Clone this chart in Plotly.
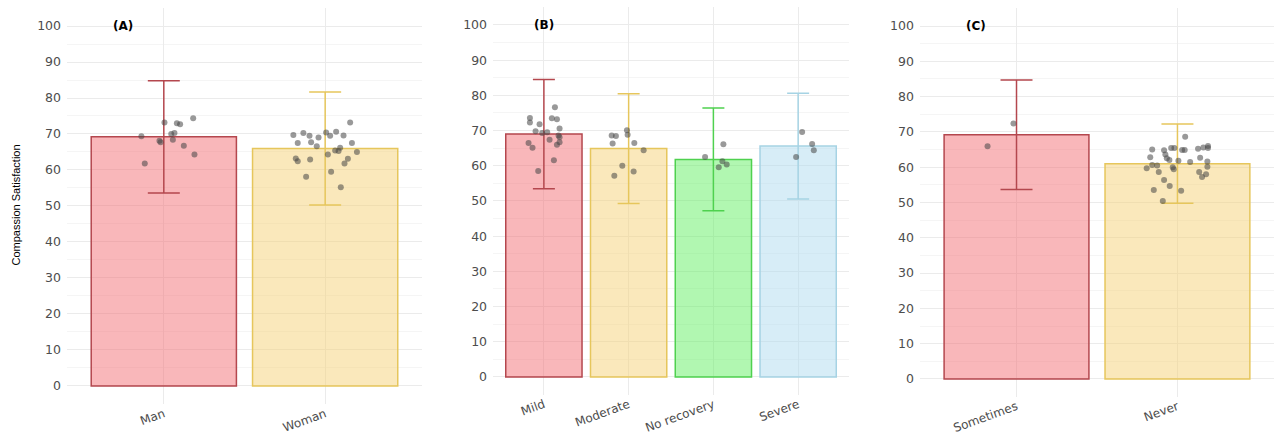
import plotly.graph_objects as go

# ---- data -------------------------------------------------------------
gender_cats = ["Man", "Woman"]
gender_mean = [69.2, 66.0]
gender_sd = [15.6, 15.7]
man_dx = [-0.139, -0.118, -0.027, -0.020, 0.004, 0.046, 0.066, 0.056, 0.081, 0.101, 0.124, 0.182, 0.190]
man_vals = [69.4, 61.8, 68.1, 67.7, 73.2, 70.0, 70.3, 68.4, 73.0, 72.7, 66.7, 74.4, 64.3]
woman_dx = [-0.197, -0.135, -0.097, -0.041, 0.006, 0.031, 0.068, 0.114, 0.155, -0.170, -0.087, -0.052, 0.166,
            0.197, 0.093, 0.062, 0.083, 0.017, -0.182, -0.170, -0.093, 0.141, 0.120, 0.037, -0.118, 0.097]
woman_vals = [69.7, 70.3, 69.5, 69.0, 70.4, 69.5, 70.6, 69.6, 73.2, 67.5, 67.7, 66.6, 67.5,
              65.0, 66.2, 65.4, 65.3, 64.3, 63.2, 62.4, 62.9, 63.1, 61.8, 59.5, 58.1, 55.2]

severity_cats = ["Mild", "Moderate", "No recovery", "Severe"]
severity_mean = [69.0, 64.9, 61.8, 65.6]
severity_sd = [15.5, 15.6, 14.6, 15.0]
mild_dx = [-0.165, -0.165, -0.051, -0.098, 0.039, -0.020, 0.094, 0.154, 0.130, 0.185, 0.173, 0.185,
           0.067, 0.185, 0.154, -0.181, -0.134, 0.118, -0.067]
mild_vals = [73.6, 72.3, 71.8, 69.8, 69.5, 69.3, 73.5, 73.2, 76.6, 70.6, 68.6, 68.1,
             67.4, 66.7, 66.0, 66.5, 65.1, 61.6, 58.5]
moderate_dx = [-0.200, -0.150, -0.020, -0.012, -0.189, 0.067, 0.177, -0.075, 0.059, -0.169]
moderate_vals = [68.6, 68.5, 70.1, 68.8, 66.3, 66.5, 64.4, 60.0, 58.4, 57.2]
norecov_dx = [-0.098, 0.118, 0.106, 0.157, 0.063]
norecov_vals = [62.5, 66.1, 61.3, 60.4, 59.6]
severe_dx = [0.047, 0.165, 0.185, -0.024]
severe_vals = [69.6, 66.2, 64.4, 62.5]

freq_cats = ["Sometimes", "Never"]
freq_mean = [69.2, 61.0]
freq_sd = [15.5, 11.2]
sometimes_dx = [-0.019, -0.180]
sometimes_vals = [72.4, 65.9]
never_dx = [0.048, -0.157, -0.083, -0.039, -0.019, 0.029, 0.045, 0.128, 0.161, 0.190, 0.190,
            -0.169, -0.075, -0.066, -0.050, 0.006, 0.079, 0.141, 0.186, -0.191, -0.157, -0.126,
            -0.029, -0.023, 0.186, -0.116, 0.135, 0.178, 0.153, -0.083, -0.048, -0.147, 0.023, -0.091]
never_vals = [68.6, 65.0, 64.8, 65.4, 65.4, 64.9, 64.9, 65.2, 65.6, 66.0, 65.4,
              62.8, 63.6, 62.5, 62.0, 61.8, 61.5, 62.7, 61.6, 59.7, 60.6, 60.5,
              60.0, 59.4, 60.1, 58.6, 58.6, 58.0, 57.2, 56.4, 54.7, 53.5, 53.3, 50.4]

panel_tags = ["(A)", "(B)", "(C)"]
y_ticks = list(range(0, 101, 10))

# ---- styling ----------------------------------------------------------
fills = ["rgba(243,112,118,0.5)", "rgba(245,210,120,0.5)", "rgba(100,240,100,0.5)", "rgba(176,219,240,0.5)"]
edges = ["#B4474E", "#E6C65C", "#4FD14F", "#A6D3E4"]
point_color = "rgba(70,70,70,0.55)"
y_tick_font = dict(family="DejaVu Sans", size=12.5, color="#4D4D4D")
x_tick_font = dict(family="DejaVu Sans", size=12, color="#4D4D4D")

panels = [
    dict(cats=gender_cats, mean=gender_mean, sd=gender_sd,
         pts=[(man_dx, man_vals), (woman_dx, woman_vals)],
         xdom=[0.0526, 0.3312], ydom=[0.0713, 0.9816], cap=16, tag_x=0.745),
    dict(cats=severity_cats, mean=severity_mean, sd=severity_sd,
         pts=[(mild_dx, mild_vals), (moderate_dx, moderate_vals), (norecov_dx, norecov_vals), (severe_dx, severe_vals)],
         xdom=[0.387, 0.6664], ydom=[0.0929, 0.983], cap=11, tag_x=1.0),
    dict(cats=freq_cats, mean=freq_mean, sd=freq_sd,
         pts=[(sometimes_dx, sometimes_vals), (never_dx, never_vals)],
         xdom=[0.7221, 1.0], ydom=[0.0883, 0.9808], cap=16, tag_x=0.75),
]

fig = go.Figure()
annotations = []

for p_i, p in enumerate(panels):
    sfx = "" if p_i == 0 else str(p_i + 1)
    xa, ya = "x" + sfx, "y" + sfx
    n = len(p["cats"])
    for i in range(n):
        fig.add_trace(go.Bar(
            x=[i + 1], y=[p["mean"][i]], width=0.9,
            marker=dict(color=fills[i], line=dict(color=edges[i], width=1.5)),
            error_y=dict(type="data", array=[p["sd"][i]], visible=True,
                         color=edges[i], thickness=1.5, width=p["cap"]),
            xaxis=xa, yaxis=ya, showlegend=False, hoverinfo="skip",
        ))
    for i, (dx, vals) in enumerate(p["pts"]):
        fig.add_trace(go.Scatter(
            x=[i + 1 + d for d in dx], y=vals, mode="markers",
            marker=dict(color=point_color, size=6),
            xaxis=xa, yaxis=ya, showlegend=False, hoverinfo="skip",
        ))
    fig.layout["xaxis" + sfx] = dict(
        domain=p["xdom"], range=[0.4, n + 0.6], anchor=ya, automargin=False,
        tickvals=list(range(1, n + 1)), ticktext=p["cats"], tickangle=-20,
        showgrid=True, gridcolor="#EBEBEB", gridwidth=1, zeroline=False,
        showline=False, ticks="", tickfont=x_tick_font, ticklabelstandoff=0,
    )
    fig.layout["yaxis" + sfx] = dict(
        domain=p["ydom"], range=[-5, 105], anchor=xa, automargin=False,
        tickvals=y_ticks, showgrid=True, gridcolor="#EBEBEB", gridwidth=1,
        minor=dict(dtick=5, tick0=0, showgrid=True, gridcolor="#F5F5F5", gridwidth=1),
        zeroline=False, showline=False, ticks="", tickfont=y_tick_font, ticklabelstandoff=5,
    )
    annotations.append(dict(
        text=panel_tags[p_i], x=p["tag_x"], y=100, xref=xa, yref=ya,
        showarrow=False, font=dict(family="DejaVu Sans", size=12, color="black", weight="bold"),
    ))

annotations.append(dict(
    text="Compassion Satisfaction", textangle=-90, x=16 / 1274, y=0.5276,
    xref="paper", yref="paper", xanchor="center", yanchor="middle", showarrow=False,
    font=dict(family="Liberation Sans", size=11, color="black"),
))

fig.update_layout(
    width=1274, height=435, margin=dict(l=0, r=0, t=0, b=0),
    paper_bgcolor="white", plot_bgcolor="white",
    barmode="overlay", annotations=annotations,
)

fig.write_html("out.html")
